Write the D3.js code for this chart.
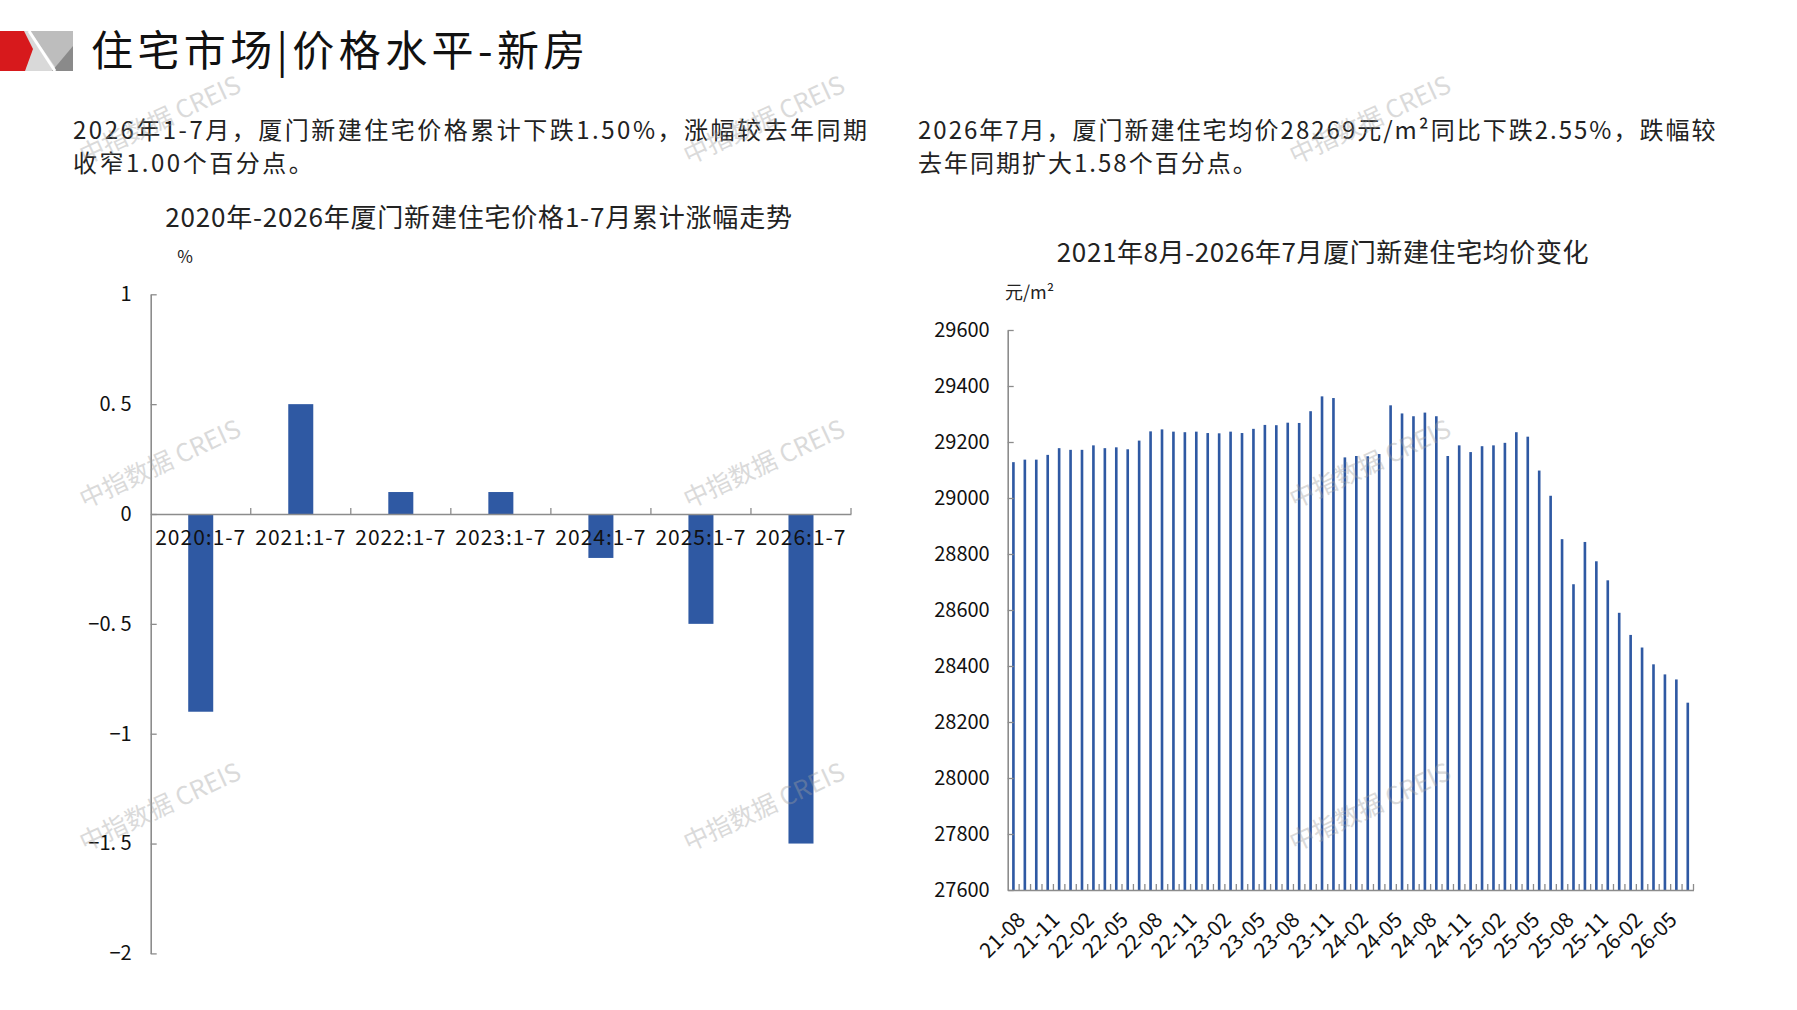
<!DOCTYPE html>
<html>
<head>
<meta charset="utf-8">
<script src="https://cdn.jsdelivr.net/npm/d3@7"></script>
<style>
body { margin: 0; background: #fff; }
text { font-family: "Noto Sans CJK SC", "Noto Sans", sans-serif; }
</style>
</head>
<body>
<script>
// left chart: cumulative change Jan-Jul, %
var cumYears = ['2020:1-7', '2021:1-7', '2022:1-7', '2023:1-7', '2024:1-7', '2025:1-7', '2026:1-7'];
var cumChange = [-0.9, 0.5, 0.1, 0.1, -0.2, -0.5, -1.5];
var cumTicks = [-2, -1.5, -1, -0.5, 0, 0.5, 1];

// right chart: monthly average price, yuan/m2
var months = ['21-08', '21-09', '21-10', '21-11', '21-12',
    '22-01', '22-02', '22-03', '22-04', '22-05', '22-06', '22-07', '22-08', '22-09', '22-10', '22-11', '22-12',
    '23-01', '23-02', '23-03', '23-04', '23-05', '23-06', '23-07', '23-08', '23-09', '23-10', '23-11', '23-12',
    '24-01', '24-02', '24-03', '24-04', '24-05', '24-06', '24-07', '24-08', '24-09', '24-10', '24-11', '24-12',
    '25-01', '25-02', '25-03', '25-04', '25-05', '25-06', '25-07', '25-08', '25-09', '25-10', '25-11', '25-12',
    '26-01', '26-02', '26-03', '26-04', '26-05', '26-06', '26-07'];
var avgPrice = [29128, 29137, 29137, 29154, 29178,
    29172, 29172, 29188, 29178, 29181, 29174, 29205, 29238, 29245, 29237, 29235, 29237,
    29232, 29231, 29237, 29232, 29247, 29261, 29260, 29269, 29268, 29310, 29363, 29357,
    29145, 29150, 29149, 29157, 29331, 29302, 29292, 29305, 29292, 29150, 29188, 29164,
    29185, 29188, 29197, 29235, 29219, 29098, 29008, 28853, 28692, 28843, 28774, 28706,
    28590, 28511, 28466, 28406, 28370, 28352, 28269];
var priceTicks = [27600, 27800, 28000, 28200, 28400, 28600, 28800, 29000, 29200, 29400, 29600];
var monthLabels = ['21-08', '21-11', '22-02', '22-05', '22-08', '22-11', '23-02', '23-05', '23-08', '23-11',
    '24-02', '24-05', '24-08', '24-11', '25-02', '25-05', '25-08', '25-11', '26-02', '26-05'];

var pageTitle = '住宅市场|价格水平-新房';
var leftText = ['2026年1-7月，厦门新建住宅价格累计下跌1.50%，涨幅较去年同期', '收窄1.00个百分点。'];
var rightText = ['2026年7月，厦门新建住宅均价28269元/m²同比下跌2.55%，跌幅较', '去年同期扩大1.58个百分点。'];
var leftTitle = '2020年-2026年厦门新建住宅价格1-7月累计涨幅走势';
var rightTitle = '2021年8月-2026年7月厦门新建住宅均价变化';

var barColor = '#2f59a3',
    axisColor = '#8c8c8c';

var svg = d3.select('body').append('svg').attr('width', 1797).attr('height', 1010);
svg.append('rect').attr('width', 1797).attr('height', 1010).attr('fill', '#fff');

// header logo
var logo = svg.append('g');
logo.append('rect').attr('x', 20).attr('y', 31).attr('width', 53).attr('height', 40).attr('fill', '#d9d9d9');
logo.append('polygon').attr('points', '30,31 73,31 73,52 58,71').attr('fill', '#bdbdbd');
logo.append('polygon').attr('points', '52,71 73,46 73,71').attr('fill', '#8a8a8a');
logo.append('line').attr('x1', 29).attr('y1', 31).attr('x2', 55).attr('y2', 71).attr('stroke', '#fff').attr('stroke-width', 3);
logo.append('polygon').attr('points', '0,31 24,31 33,49 25,71 0,71').attr('fill', '#d7191c');

svg.append('text').attr('x', 91).attr('y', 66)
    .attr('font-size', 42).attr('letter-spacing', 4.4).attr('fill', '#111')
    .text(pageTitle);

function para(lines, x, y, spacing) {
    svg.append('g').selectAll('text').data(lines).enter().append('text')
        .attr('x', x).attr('y', function(d, i) { return y + i * 33; })
        .attr('font-size', 24).attr('letter-spacing', spacing).attr('fill', '#222')
        .text(function(d) { return d; });
}
para(leftText, 73, 139, 2.5);
para(rightText, 918, 139, 2.0);

// ---------- left chart ----------
var lx = d3.scaleBand().domain(cumYears).range([150.7, 851]).paddingInner(0.75).paddingOuter(0.375);
var ly = d3.scaleLinear().domain([-2, 1]).range([953.4, 294.3]);

svg.append('text').attr('x', 479).attr('y', 226.5).attr('text-anchor', 'middle')
    .attr('font-size', 26).attr('letter-spacing', 0.8).attr('fill', '#222').text(leftTitle);
svg.append('text').attr('x', 185).attr('y', 263).attr('text-anchor', 'middle')
    .attr('font-size', 17).attr('fill', '#222').text('%');

svg.append('g').selectAll('rect').data(cumChange).enter().append('rect')
    .attr('x', function(d, i) { return lx(cumYears[i]); })
    .attr('y', function(d) { return ly(Math.max(0, d)); })
    .attr('width', lx.bandwidth())
    .attr('height', function(d) { return Math.abs(ly(d) - ly(0)); })
    .attr('fill', barColor);

var lyAxis = d3.axisLeft(ly).tickValues(cumTicks).tickSizeInner(-6).tickSizeOuter(0).tickPadding(19)
    .tickFormat(function(d) { return String(d).replace('-', '−').replace('.', '. '); });
svg.append('g').attr('class', 'ylab').attr('transform', 'translate(150.7,0)').call(lyAxis);

var lxAxis = d3.axisBottom(lx).tickSize(0).tickPadding(16);
var glx = svg.append('g').attr('class', 'xlab').attr('transform', 'translate(0,' + ly(0) + ')').call(lxAxis);
glx.selectAll('.tick').append('line')
    .attr('x1', lx.step() / 2).attr('x2', lx.step() / 2).attr('y1', 0).attr('y2', -6);

// ---------- right chart ----------
var rx = d3.scaleBand().domain(months).range([1007.7, 1693.5]).paddingInner(0.77).paddingOuter(0.385);
var ry = d3.scaleLinear().domain([27600, 29600]).range([890, 330]);

svg.append('text').attr('x', 1323).attr('y', 261.5).attr('text-anchor', 'middle')
    .attr('font-size', 26).attr('letter-spacing', 0.6).attr('fill', '#222').text(rightTitle);
svg.append('text').attr('x', 1005).attr('y', 299)
    .attr('font-size', 18).attr('fill', '#222').text('元/m²');

svg.append('g').selectAll('rect').data(avgPrice).enter().append('rect')
    .attr('x', function(d, i) { return rx(months[i]); })
    .attr('y', function(d) { return ry(d); })
    .attr('width', rx.bandwidth())
    .attr('height', function(d) { return ry(27600) - ry(d); })
    .attr('fill', barColor);

var ryAxis = d3.axisLeft(ry).tickValues(priceTicks).tickSizeInner(-6).tickSizeOuter(0).tickPadding(18)
    .tickFormat(d3.format('d'));
svg.append('g').attr('class', 'ylab').attr('transform', 'translate(1007.7,0)').call(ryAxis);

var rxTicks = d3.axisBottom(rx).tickSize(0).tickFormat('');
var grx = svg.append('g').attr('transform', 'translate(0,890)').call(rxTicks);
grx.selectAll('.tick').append('line')
    .attr('x1', rx.step() / 2).attr('x2', rx.step() / 2).attr('y1', 0).attr('y2', -6);

var rxAxis = d3.axisBottom(rx).tickValues(monthLabels).tickSize(0);
var grl = svg.append('g').attr('class', 'mlab').attr('transform', 'translate(0,890)').call(rxAxis);
grl.select('.domain').remove();
grl.selectAll('text').attr('y', 0).attr('dy', '0.35em')
    .attr('text-anchor', 'end').attr('transform', 'translate(8,26) rotate(-45)');

// shared axis style
svg.selectAll('.domain').attr('stroke', axisColor).attr('stroke-width', 1.6);
svg.selectAll('.tick line').attr('stroke', axisColor).attr('stroke-width', 1.3);
svg.selectAll('.tick text').attr('font-size', 20).attr('fill', '#111')
    .attr('font-family', '"Noto Sans CJK SC", "Noto Sans", sans-serif');
svg.selectAll('.xlab .tick text').attr('font-size', 21).attr('letter-spacing', 1);
svg.selectAll('.mlab .tick text').attr('font-size', 21);

// watermarks
var wmX = [160, 764, 1370],
    wmY = [120, 464, 807];
var wm = svg.append('g').attr('pointer-events', 'none');
wmY.forEach(function(y) {
    wmX.forEach(function(x) {
        wm.append('text').attr('transform', 'translate(' + x + ',' + y + ') rotate(-25)')
            .attr('text-anchor', 'middle').attr('dy', '0.35em')
            .attr('font-size', 25).attr('fill', '#a0a0a0').attr('opacity', 0.38)
            .text('中指数据 CREIS');
    });
});
</script>
</body>
</html>
